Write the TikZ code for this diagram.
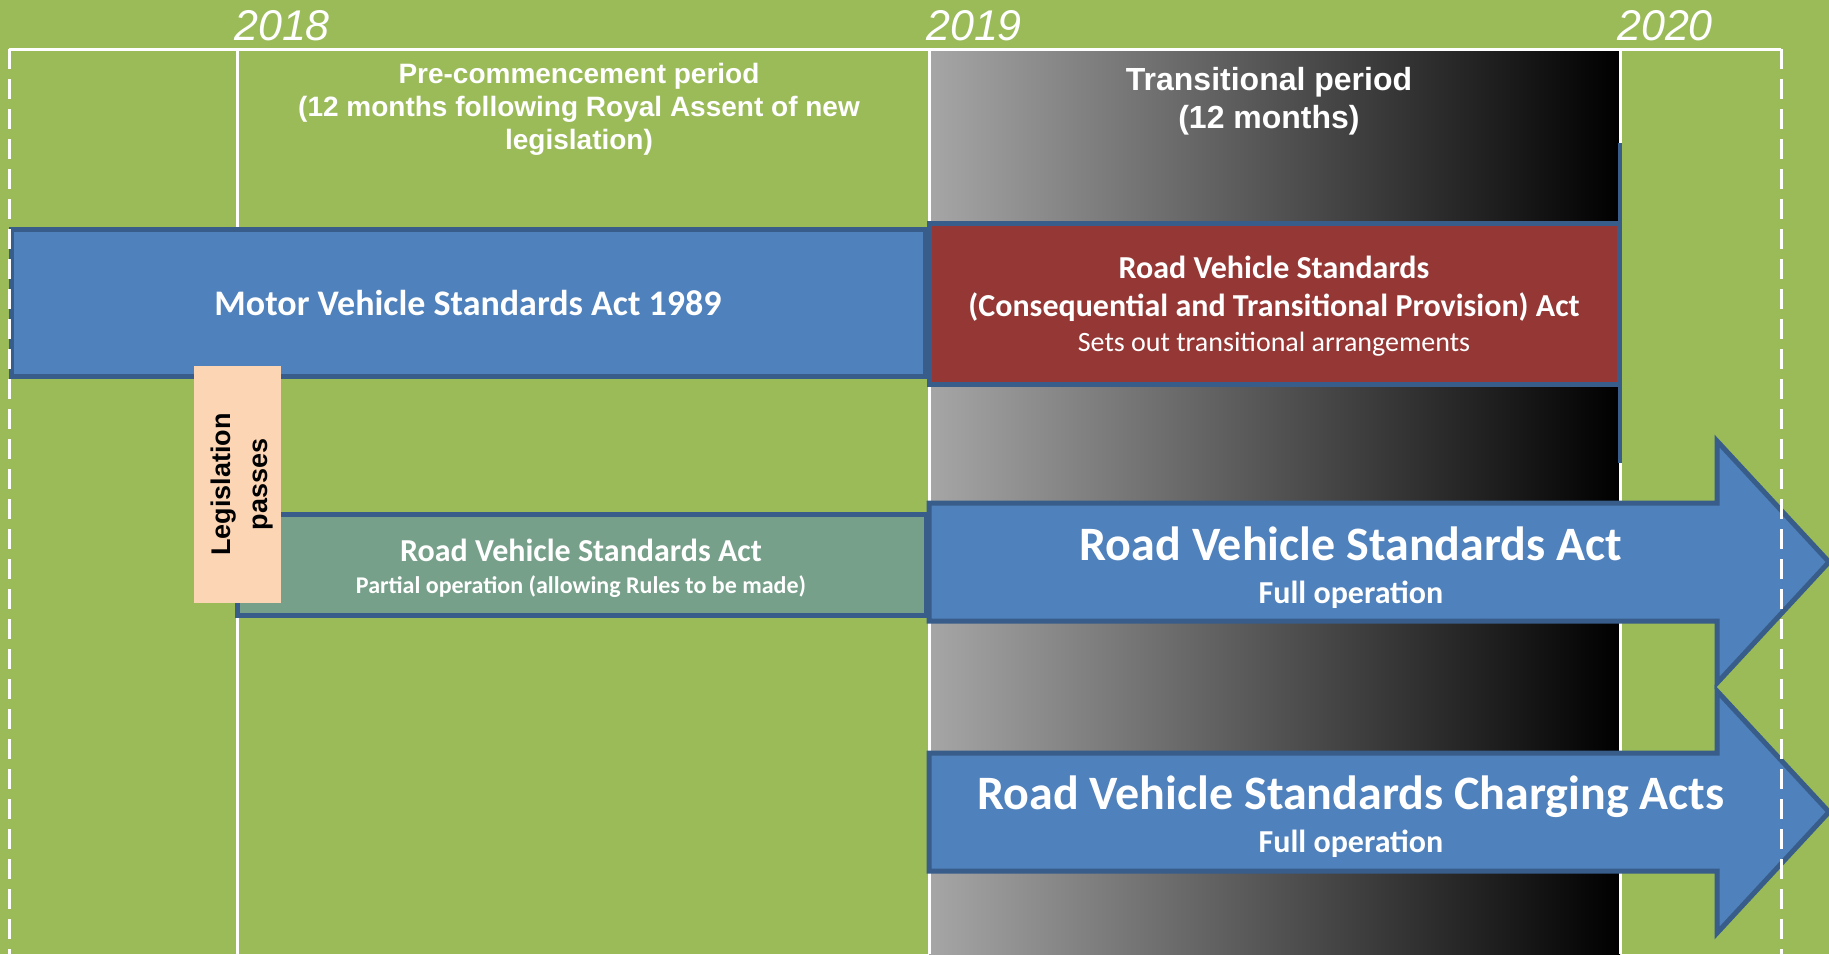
\documentclass[tikz,border=0pt]{standalone}
\usepackage{fontspec}
\setmainfont{Carlito}
\newfontfamily\arialfont{Liberation Sans}

\definecolor{bgGreen}{RGB}{155,187,89}
\definecolor{actBlue}{RGB}{79,129,189}
\definecolor{edgeBlue}{RGB}{56,93,138}
\definecolor{actRed}{RGB}{149,55,53}
\definecolor{actGrey}{RGB}{119,160,138}
\definecolor{passPeach}{RGB}{252,213,181}
\definecolor{shadeGrey}{RGB}{166,166,166}

\begin{document}
\begin{tikzpicture}
[x=1pt,y=-1pt,
  barDecorate/.style={draw=edgeBlue,line width=5pt,inner sep=0pt,text=white},%
  arrowDecorate/.style={draw=edgeBlue,line width=5pt,fill=actBlue,line join=miter},%
  gridDecorate/.style={draw=white,line width=3pt},%
  dashDecorate/.style={draw=white,line width=3pt,dash pattern=on 20pt off 10pt},%
  yearDecorate/.style={text=white,inner sep=0pt,anchor=base west,font={\arialfont\itshape\fontsize{43}{50}\selectfont}},%
  headDecorate/.style 2 args={text=white,inner sep=0pt,anchor=north,align=center,font={\arialfont\bfseries\fontsize{#1}{#2}\selectfont}},%
  labelDecorate/.style={text=white,inner sep=0pt,anchor=base,font={\bfseries\fontsize{#1}{#1}\selectfont}},%
  subDecorate/.style={text=white,inner sep=0pt,anchor=base,font={\fontsize{#1}{#1}\selectfont}}]
\fill[bgGreen] (0,0) rectangle (1829,954);
\useasboundingbox (0,0) rectangle (1829,954);
%% transitional period
\shade[left color=shadeGrey,right color=black] (929,49) rectangle (1620,954);
%% time axis and years
\draw[gridDecorate] (9,49) -- (1781,49);
\foreach \yr/\x in {2018/237, 2019/929, 2020/1620}
{
  \draw[gridDecorate] (\x,49) -- (\x,954);
  \node (y\yr) at (\x-3,40) [yearDecorate] {\yr};
}
\draw[edgeBlue,line width=4pt] (1620,143) -- (1620,463);
%% periods
\node (pre) at (579,63) [headDecorate={28}{33}]
  {Pre-commencement period\\(12 months following Royal Assent of new\\legislation)};
\node (trans) at (1269,67) [headDecorate={32}{38}]
  {Transitional period\\(12 months)};
%% acts
\node (mvsa) at (468,303) [barDecorate,fill=actBlue,minimum width=914pt,minimum height=147pt,
  font={\bfseries\fontsize{36}{36}\selectfont}] {Motor Vehicle Standards Act 1989};
\node (rvcta) at (1274,304) [barDecorate,fill=actRed,minimum width=690pt,minimum height=161pt] {};
\node (rvctaA) at (1274,278) [labelDecorate=32] {Road Vehicle Standards};
\node (rvctaB) at (1274,316) [labelDecorate=32] {(Consequential and Transitional Provision) Act};
\node (rvctaC) at (1274,351) [subDecorate=28] {Sets out transitional arrangements};
\node (rvsaPart) at (581.5,565) [barDecorate,fill=actGrey,minimum width=689pt,minimum height=101pt] {};
\node (rvsaPartA) at (581,561) [labelDecorate=32] {Road Vehicle Standards Act};
\node (rvsaPartB) at (581,593) [labelDecorate=24] {Partial operation (allowing Rules to be made)};
%% full operation arrows
\foreach \cy in {562,812}
{
  \draw[arrowDecorate] (929,\cy-59) -- (1717,\cy-59) -- (1717,\cy-121) -- (1829,\cy)
    -- (1717,\cy+121) -- (1717,\cy+59) -- (929,\cy+59) -- cycle;
}
\node (rvsaFull) at (1351,560) [labelDecorate=48] {Road Vehicle Standards Act};
\node (rvsaFullB) at (1351,603) [labelDecorate=32] {Full operation};
\node (rvscaFull) at (1351,809) [labelDecorate=48] {Road Vehicle Standards Charging Acts};
\node (rvscaFullB) at (1351,852) [labelDecorate=32] {Full operation};
%% royal assent
\node (passesBox) at (237.5,484.5) [fill=passPeach,minimum width=87pt,minimum height=237pt,inner sep=0pt] {};
\node (passes) at (242.5,484.5) [rotate=90,inner sep=0pt,align=center,
  font={\arialfont\bfseries\fontsize{27}{37}\selectfont}] {Legislation\\passes};
%% outer dashed edges
\draw[dashDecorate] (9,49) -- (9,954);
\draw[dashDecorate] (1781,49) -- (1781,954);
\end{tikzpicture}
\end{document}
